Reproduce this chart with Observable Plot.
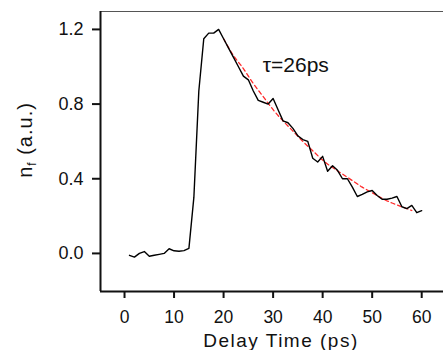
<!DOCTYPE html>
<html>
<head>
<meta charset="utf-8">
<script src="https://cdn.jsdelivr.net/npm/d3@7"></script>
<script src="https://cdn.jsdelivr.net/npm/@observablehq/plot@0.6"></script>
<style>
  html, body { margin: 0; padding: 0; background: #fff; }
  #chart { width: 443px; height: 350px; }
</style>
</head>
<body>
<div id="chart"></div>
<script>
// Measured signal n_f (a.u.) vs delay time (ps)
const delayTimes = [1,2,3,4,5,6,7,8,9,10,11,12,13,14,15,16,17,18,19,20,
  21,22,23,24,25,26,27,28,29,30,31,32,33,34,35,36,37,38,39,40,
  41,42,43,44,45,46,47,48,49,50,51,52,53,54,55,56,57,58,59,60];
const signal = [-0.01,-0.02,0.0,0.01,-0.015,-0.01,-0.005,0.0,0.025,0.014,
  0.012,0.015,0.027,0.30,0.87,1.15,1.18,1.18,1.20,1.15,
  1.10,1.05,1.00,0.95,0.93,0.87,0.82,0.81,0.80,0.83,
  0.77,0.71,0.70,0.67,0.63,0.61,0.60,0.51,0.49,0.52,
  0.44,0.47,0.445,0.40,0.40,0.355,0.305,0.316,0.33,0.337,
  0.31,0.29,0.29,0.296,0.305,0.25,0.24,0.257,0.218,0.229];

// Exponential fit (red dashed)
const fitTimes = [20,22,24,26,28,30,32,34,36,38,40,42,44,46,48,50,52,54,56,58];
const fitValues = [1.15,1.06,0.99,0.91,0.84,0.77,0.71,0.655,0.60,0.55,0.50,0.46,0.425,0.39,0.355,0.325,0.295,0.27,0.25,0.23];

// Annotation
const annotText = ["τ=26ps"];
const annotX = [27.9];
const annotY = [1.007];

// Axes
const xTicks = [0,10,20,30,40,50,60];
const yTicks = [0.0,0.4,0.8,1.2];
const xDomain = [-4.85, 64.4];
const yDomain = [-0.204, 1.296];
const xLabel = "Delay Time (ps)";
const yLabelMain = "n";
const yLabelSub = "f";
const yLabelRest = " (a.u.)";

const dataRows = delayTimes.map((t, i) => ({t, v: signal[i]}));
const fitRows = fitTimes.map((t, i) => ({t, v: fitValues[i]}));
const annotRows = annotText.map((s, i) => ({s, x: annotX[i], y: annotY[i]}));

const font = "'Liberation Sans', Arial, Helvetica, sans-serif";

const chart = Plot.plot({
  width: 443,
  height: 350,
  marginLeft: 100,
  marginRight: 0,
  marginTop: 11,
  marginBottom: 59,
  style: {fontFamily: font, fontSize: "18px", color: "#111", background: "#fff"},
  x: {domain: xDomain},
  y: {domain: yDomain},
  marks: [
    Plot.ruleY([yDomain[1]], {stroke: "#555", strokeWidth: 1}),
    Plot.ruleY([yDomain[0]], {stroke: "#111", strokeWidth: 2}),
    Plot.ruleX([xDomain[0]], {stroke: "#111", strokeWidth: 2}),
    Plot.axisX({ticks: xTicks, tickSize: 7, tickPadding: 12, strokeWidth: 2, label: null, fontSize: 17.5, tickFormat: d3.format("d")}),
    Plot.axisY({ticks: yTicks, tickSize: 8, tickPadding: 9, strokeWidth: 2, label: null, fontSize: 18, tickFormat: d3.format(".1f")}),
    Plot.line(fitRows, {x: "t", y: "v", stroke: "#ff2a2a", strokeWidth: 1.3, strokeDasharray: "4,3", curve: "natural"}),
    Plot.line(dataRows, {x: "t", y: "v", stroke: "#000", strokeWidth: 1.4}),
    Plot.text(annotRows, {x: "x", y: "y", text: "s", textAnchor: "start", lineAnchor: "middle", fontSize: 21, fill: "#111"})
  ]
});

document.getElementById("chart").appendChild(chart);

// Axis titles as real text
const svg = d3.select(chart);
svg.append("text")
  .attr("x", 281).attr("y", 347)
  .attr("text-anchor", "middle")
  .attr("font-family", font)
  .attr("font-size", 19)
  .attr("letter-spacing", "1.5px")
  .attr("fill", "#111")
  .text(xLabel);

const yl = svg.append("text")
  .attr("transform", "translate(32,140) rotate(-90)")
  .attr("text-anchor", "middle")
  .attr("font-family", font)
  .attr("font-size", 20)
  .attr("letter-spacing", "1px")
  .attr("fill", "#111");
yl.append("tspan").text(yLabelMain);
yl.append("tspan").attr("font-size", 12).attr("dy", 4).text(yLabelSub);
yl.append("tspan").attr("dy", -4).text(yLabelRest);
</script>
</body>
</html>
